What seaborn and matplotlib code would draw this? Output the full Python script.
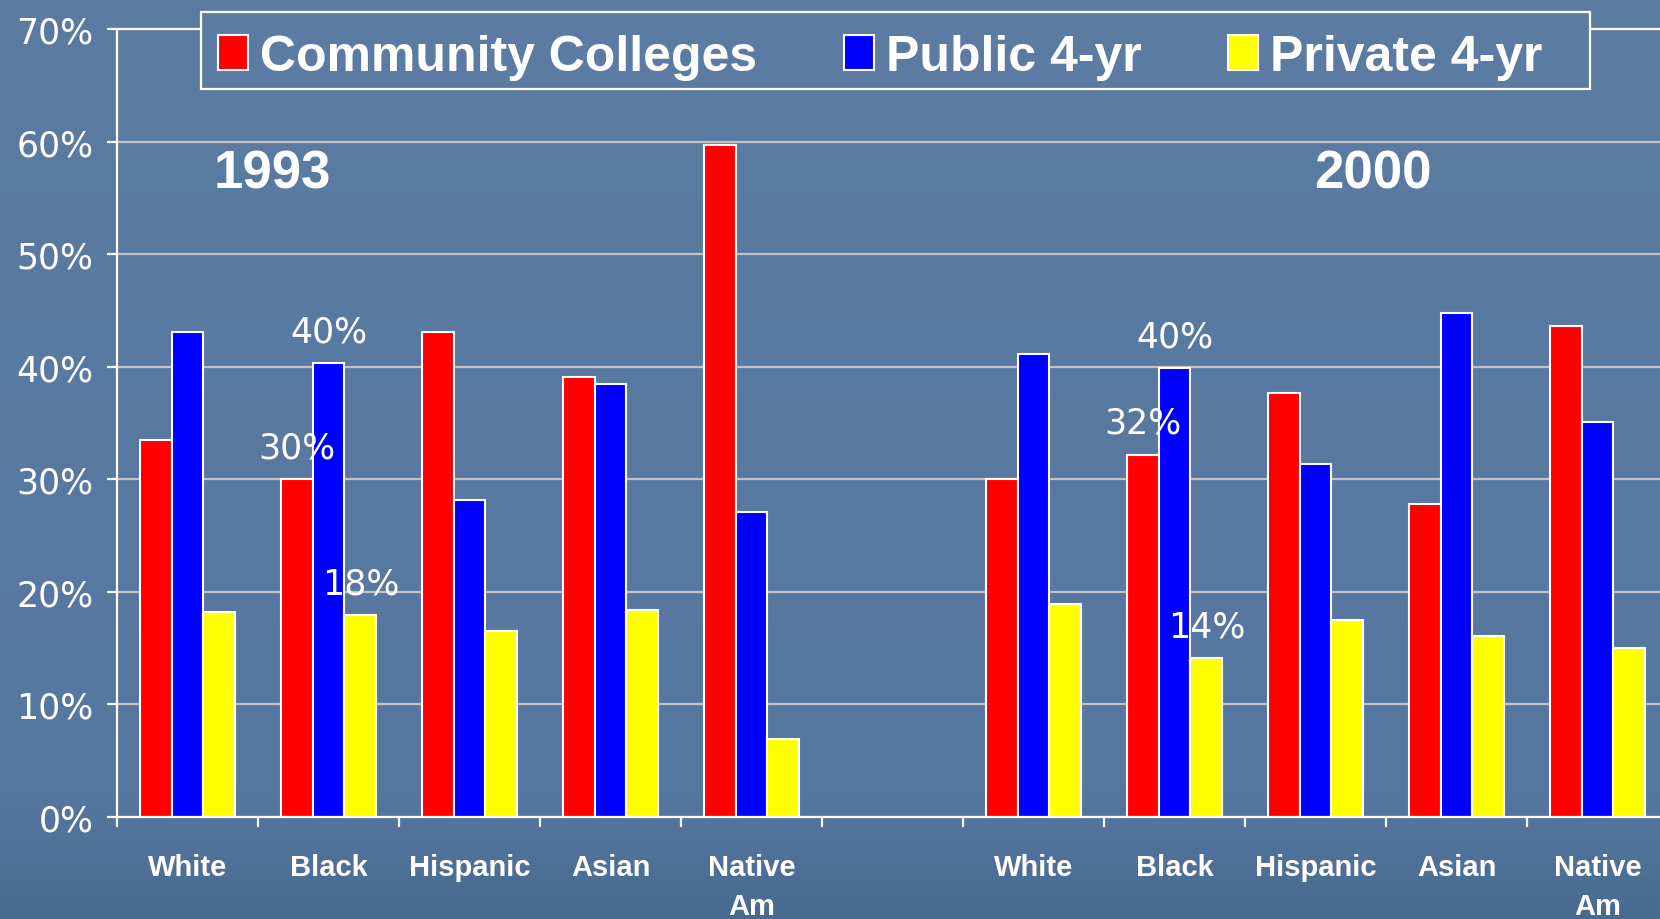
import numpy as np
import pandas as pd
import matplotlib
matplotlib.use("Agg")
import matplotlib.pyplot as plt
from matplotlib.colors import LinearSegmentedColormap
from matplotlib.patches import Rectangle
from matplotlib.ticker import PercentFormatter
import seaborn as sns

# data (share of enrollment, %)
years = ["1993", "2000"]
groups = ["White", "Black", "Hispanic", "Asian", "Native Am"]
group_labels = ["White", "Black", "Hispanic", "Asian", "Native\nAm"]
sectors = ["Community Colleges", "Public 4-yr", "Private 4-yr"]
colors = ["#ff0000", "#0000ff", "#ffff00"]

cc_1993 = [33.5, 30.0, 43.1, 39.1, 59.7]
pub_1993 = [43.1, 40.3, 28.2, 38.5, 27.1]
priv_1993 = [18.2, 17.9, 16.5, 18.4, 6.9]

cc_2000 = [30.0, 32.2, 37.7, 27.8, 43.6]
pub_2000 = [41.1, 39.9, 31.4, 44.8, 35.1]
priv_2000 = [18.9, 14.1, 17.5, 16.1, 15.0]

# values that carry a label on the slide: (year, group, sector)
callouts = [("1993", "Black", "Community Colleges"), ("1993", "Black", "Public 4-yr"),
            ("1993", "Black", "Private 4-yr"), ("2000", "Black", "Community Colleges"),
            ("2000", "Black", "Public 4-yr"), ("2000", "Black", "Private 4-yr")]

values = {
    ("1993", sectors[0]): cc_1993, ("1993", sectors[1]): pub_1993, ("1993", sectors[2]): priv_1993,
    ("2000", sectors[0]): cc_2000, ("2000", sectors[1]): pub_2000, ("2000", sectors[2]): priv_2000,
}

rows = []
for (yr, sec), vals in values.items():
    for g, v in zip(groups, vals):
        rows.append({"slot": f"{yr} {g}", "sector": sec, "share": v / 100})
df = pd.DataFrame(rows)

order = [f"1993 {g}" for g in groups] + ["gap"] + [f"2000 {g}" for g in groups]
tick_labels = group_labels + [""] + group_labels

BG_TOP = "#5b7ba2"
BG_MID = "#5677a0"
BG_BOT = "#496a90"
W, H = 1660, 920

fig = plt.figure(figsize=(W / 100, H / 100), dpi=100)

# slide background
bg = fig.add_axes([0, 0, 1, 1], zorder=-5)
grad = np.linspace(0, 1, 256).reshape(-1, 1)
cmap = LinearSegmentedColormap.from_list("slide", [(0, BG_TOP), (0.86, BG_MID), (1, BG_BOT)])
bg.imshow(grad, aspect="auto", cmap=cmap, extent=[0, 1, 0, 1])
bg.axis("off")

ax = fig.add_axes([117 / W, 102 / H, 1551 / W, 788 / H])
ax.patch.set_alpha(0)

sns.barplot(data=df, x="slot", y="share", hue="sector", order=order, hue_order=sectors,
            palette=colors, saturation=1, width=0.68, edgecolor="white", linewidth=1.5,
            errorbar=None, ax=ax)

ax.set_ylim(0, 0.70)
ax.set_xlim(-0.5, 10.5)
ax.yaxis.set_major_formatter(PercentFormatter(1.0, decimals=0))
ax.set_yticks(np.arange(0, 0.71, 0.1))
ax.set_axisbelow(True)
ax.yaxis.grid(True, color="#c2c2c2", linewidth=1.6)
ax.set_xlabel("")
ax.set_ylabel("")

for side in ["left", "bottom", "top"]:
    ax.spines[side].set_color("white")
    ax.spines[side].set_linewidth(1.6)
ax.spines["right"].set_visible(False)

ax.set_xticks(range(len(order)))
ax.set_xticklabels(tick_labels, family="Liberation Sans", fontweight="bold",
                   fontsize=21, color="white", linespacing=1.5)
ax.set_xticks(np.arange(-0.5, len(order), 1), minor=True)
ax.tick_params(axis="x", which="major", length=0, pad=26)
ax.tick_params(axis="x", which="minor", length=7, width=1.6, color="white")
ax.tick_params(axis="y", length=7, width=1.6, color="white", pad=10,
               labelsize=25, labelcolor="white")

# callout percentages above the Black bars
bw = 0.68 / 3
for yr, g, sec in callouts:
    v = values[(yr, sec)][groups.index(g)]
    x = order.index(f"{yr} {g}") + (sectors.index(sec) - 1) * bw
    ax.text(x, (v + 2.8) / 100, f"{v:.0f}%", ha="center", va="center",
            fontsize=25, color="white")

ax.text(0.6, 0.572, years[0], ha="center", va="center", family="Liberation Sans",
        fontweight="bold", fontsize=38, color="white")
ax.text(8.41, 0.572, years[1], ha="center", va="center", family="Liberation Sans",
        fontweight="bold", fontsize=38, color="white")

# legend box drawn separately so it can sit wider than its entries
box = Rectangle((201 / W, 1 - 90 / H), 1389 / W, 77 / H, transform=fig.transFigure,
                facecolor=BG_TOP, edgecolor="white", linewidth=1.6, zorder=4)
fig.patches.append(box)

handles, labels = ax.get_legend_handles_labels()
ax.get_legend().remove()
leg = fig.legend(handles, labels, ncol=3, loc="center left",
                 bbox_to_anchor=(218 / W, 1 - 58 / H),
                 prop={"family": "Liberation Sans", "weight": "bold", "size": 36},
                 labelcolor="white", frameon=False,
                 handlelength=0.6, handleheight=0.7, handletextpad=0.25,
                 columnspacing=1.72, borderpad=0, borderaxespad=0)
leg.set_zorder(5)

fig.savefig("out.png", dpi=100)
